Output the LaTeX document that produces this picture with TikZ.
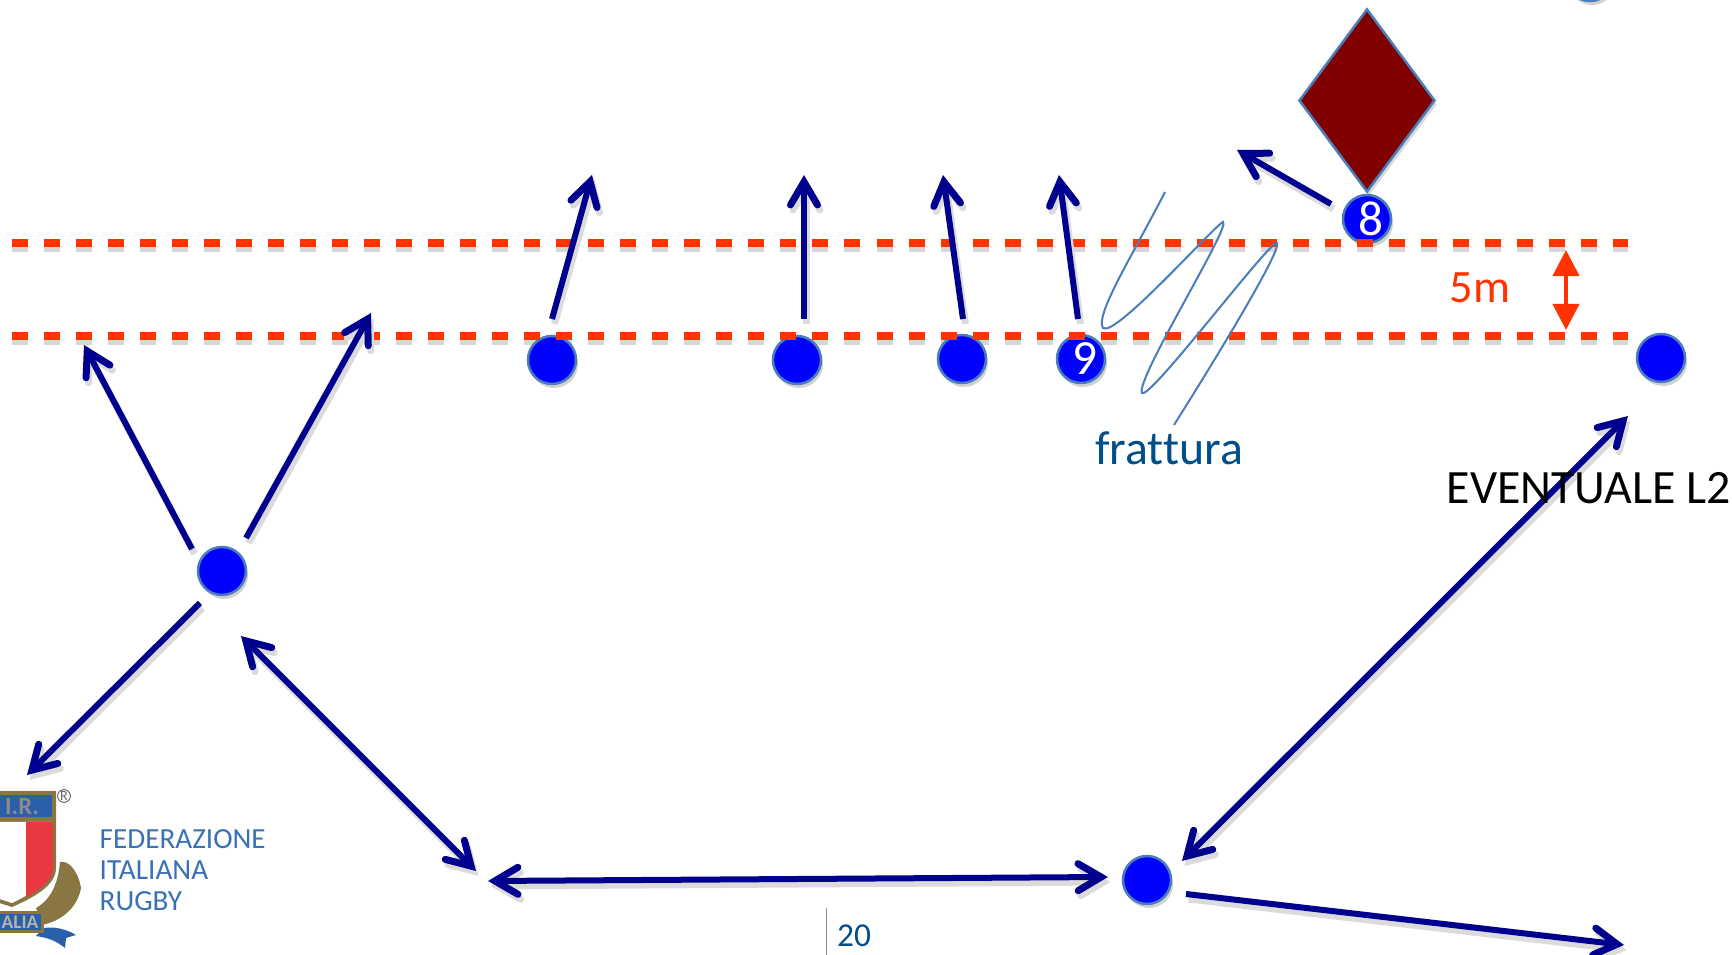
\documentclass[tikz,border=0pt]{standalone}
\usepackage{fontspec}
\setmainfont[Ligatures=NoCommon]{Carlito}
\usetikzlibrary{arrows.meta,shapes.geometric,shadows}
\definecolor{runblue}{HTML}{00008F}
\definecolor{linered}{HTML}{FF3300}
\definecolor{edgeblue}{HTML}{4A7EBB}
\definecolor{textblue}{HTML}{004F8A}
\definecolor{logoblue}{HTML}{3A70B6}
\definecolor{logoband}{HTML}{2A5FAA}
\definecolor{logogold}{HTML}{8A7643}
\definecolor{logored}{HTML}{E9383F}
\tikzset{
	softshade/.style={preaction={draw, color=black!14, line width=0.7mm, transform canvas={xshift=0.25mm, yshift=-0.5mm}}},
	barb/.tip={Straight Barb[length=2.3mm, width=2.7mm, line width=0.7mm, line cap=round, line join=miter]},
	player/.style={circle, fill=blue, draw=edgeblue, line width=0.25mm, minimum size=0.48cm, inner sep=0pt, text=white, font=\fontsize{12}{12}\selectfont, drop shadow={shadow xshift=0.2mm, shadow yshift=-0.4mm, opacity=0.18, fill=black}},
	run/.style={line width=0.6mm, color=runblue, softshade, -barb},
	runboth/.style={line width=0.6mm, color=runblue, softshade, barb-barb},
	fiveline/.style={line width=0.8mm, color=linered, dash pattern=on 1.6mm off 1.6mm},
	fiveshade/.style={line width=0.8mm, color=black!16, dash pattern=on 1.6mm off 1.6mm, transform canvas={yshift=-0.5mm}},
	gap/.style={line width=0.4mm, color=linered, {Triangle[length=2.6mm, width=2.6mm]}-{Triangle[length=2.6mm, width=2.6mm]}},
	scribble/.style={line width=0.2mm, color=edgeblue},
	logotext/.style={anchor=west, inner sep=0pt, text=logoblue, font=\fontsize{8.3}{8.3}\selectfont},
}

\begin{document}
\begin{tikzpicture}[x=0.01cm, y=-0.01cm]
	\useasboundingbox (0, 0) rectangle (1732, 955);
	\clip (0, 0) rectangle (1732, 955);

	% lines
	\coordinate (lineAa) at (12, 242.7);
	\coordinate (lineAb) at (1628, 242.7);
	\coordinate (lineBa) at (12, 336.5);
	\coordinate (lineBb) at (1628, 336.5);
	\draw[fiveshade] (lineAa) -- (lineAb);
	\draw[fiveshade] (lineBa) -- (lineBb);

	% players
	\node[player] (pA) at (552, 360) {};
	\node[player] (pB) at (797, 360) {};
	\node[player] (pC) at (962, 359) {};
	\node[player] (pNine) at (1081, 359) {\hspace{0.8mm}\fontsize{14}{14}\selectfont 9};
	\node[player] (pEight) at (1367, 219) {\hspace{0.8mm}\fontsize{14}{14}\selectfont 8};
	\node[player] (pWing) at (1661, 358) {};
	\node[player] (pTop) at (1590, -23) {};
	\node[player] (pLeft) at (222, 571) {};
	\node[player] (pBack) at (1147, 880) {};

	\node[diamond, aspect=0.75, fill=red!50!black, draw=edgeblue, line width=0.25mm, minimum width=1.36cm, minimum height=1.83cm, inner sep=0pt, drop shadow={shadow xshift=0.2mm, shadow yshift=-0.4mm, opacity=0.15, fill=black}] (ball) at (1367, 100.5) {};

	\draw[fiveline] (lineAa) -- (lineAb);
	\draw[fiveline] (lineBa) -- (lineBb);

	\coordinate (gapA) at (1566, 250);
	\coordinate (gapB) at (1566, 330);
	\draw[gap] (gapA) -- (gapB);
	\node[text=linered, font=\fontsize{13.2}{13.2}\selectfont] (five) at (1480, 288) {5m};

	% arrows
	\coordinate (aS) at (552, 319);
	\coordinate (aE) at (592, 175);
	\draw[run] (aS) -- (aE);
	\coordinate (bS) at (804, 319);
	\coordinate (bE) at (804, 175);
	\draw[run] (bS) -- (bE);
	\coordinate (cS) at (963, 319);
	\coordinate (cE) at (943, 175);
	\draw[run] (cS) -- (cE);
	\coordinate (dS) at (1078, 319);
	\coordinate (dE) at (1059, 175);
	\draw[run] (dS) -- (dE);
	\coordinate (eS) at (1331, 204);
	\coordinate (eE) at (1237, 150);
	\draw[run] (eS) -- (eE);

	\coordinate (fS) at (192, 549);
	\coordinate (fE) at (84, 345);
	\draw[run] (fS) -- (fE);
	\coordinate (gS) at (246, 538);
	\coordinate (gE) at (371, 313);
	\draw[run] (gS) -- (gE);
	\coordinate (hS) at (200, 603);
	\coordinate (hE) at (27, 775);
	\draw[run] (hS) -- (hE);

	\coordinate (iS) at (241, 636);
	\coordinate (iE) at (476, 871);
	\draw[runboth] (iS) -- (iE);
	\coordinate (jS) at (488, 881);
	\coordinate (jE) at (1108, 877);
	\draw[runboth] (jS) -- (jE);
	\coordinate (kS) at (1182, 861);
	\coordinate (kE) at (1628, 416);
	\draw[runboth] (kS) -- (kE);
	\coordinate (lS) at (1186, 894);
	\coordinate (lE) at (1624, 945);
	\draw[run] (lS) -- (lE);

	% frattura
	\draw[scribble] (1165, 192) .. controls (1130, 260) and (1095, 315) .. (1103, 328)
		.. controls (1115, 338) and (1215, 225) .. (1223, 222)
		.. controls (1232, 225) and (1135, 380) .. (1142, 393)
		.. controls (1150, 400) and (1270, 240) .. (1277, 243)
		.. controls (1282, 250) and (1215, 360) .. (1174, 425);
	\node[text=textblue, font=\fontsize{13.6}{13.6}\selectfont] (frattura) at (1169, 448) {frattura};
	\node[text=black, anchor=west, inner sep=0pt, font=\fontsize{13.6}{13.6}\selectfont] (l2) at (1446, 488) {EVENTUALE L2};

	% logo
	\fill[logogold] (-10, 791) -- (56, 791) -- (56, 868) .. controls (56, 885) and (35, 897) .. (12, 907) -- (-10, 900) -- cycle;
	\fill[white] (-10, 822) -- (52, 822) -- (52, 868) .. controls (52, 880) and (35, 892) .. (12, 903) -- (-10, 896) -- cycle;
	\fill[logored] (26, 822) -- (53, 822) -- (53, 868) .. controls (53, 880) and (40, 890) .. (26, 897) -- cycle;
	\fill[logoband] (-10, 795) rectangle (52, 817);
	\node[text=black!45, font=\bfseries\fontsize{7}{7}\selectfont] (fir) at (22, 807) {I.R.};
	\node[text=black!60, font=\fontsize{4}{4}\selectfont, circle, draw=black!60, line width=0.1mm, inner sep=0.1pt] (reg) at (64, 796) {R};
	\fill[logogold] (60, 862) .. controls (68, 860) and (78, 870) .. (81, 888) .. controls (78, 905) and (65, 920) .. (42, 925) -- (36, 908) .. controls (50, 900) and (58, 885) .. (60, 862);
	\fill[logoband] (44, 928) .. controls (55, 926) and (68, 930) .. (76, 935) -- (66, 938) -- (65, 948) .. controls (55, 940) and (48, 938) .. (36, 936) -- cycle;
	\fill[logogold] (-10, 911) rectangle (44, 933);
	\fill[logoband] (-10, 914) rectangle (41, 930);
	\node[text=black!30, font=\bfseries\fontsize{5.5}{5.5}\selectfont] (alia) at (20, 922) {ALIA};

	\node[logotext] (fed) at (99, 839.5) {FEDERAZIONE};
	\node[logotext] (ita) at (99, 870) {ITALIANA};
	\node[logotext] (rug) at (99, 901) {RUGBY};

	% page number
	\coordinate (pageA) at (826, 908);
	\coordinate (pageB) at (826, 955);
	\draw[line width=0.1mm, color=black!45] (pageA) -- (pageB);
	\node[text=textblue, font=\fontsize{9.5}{9.5}\selectfont] (page) at (854, 936) {20};
\end{tikzpicture}
\end{document}
